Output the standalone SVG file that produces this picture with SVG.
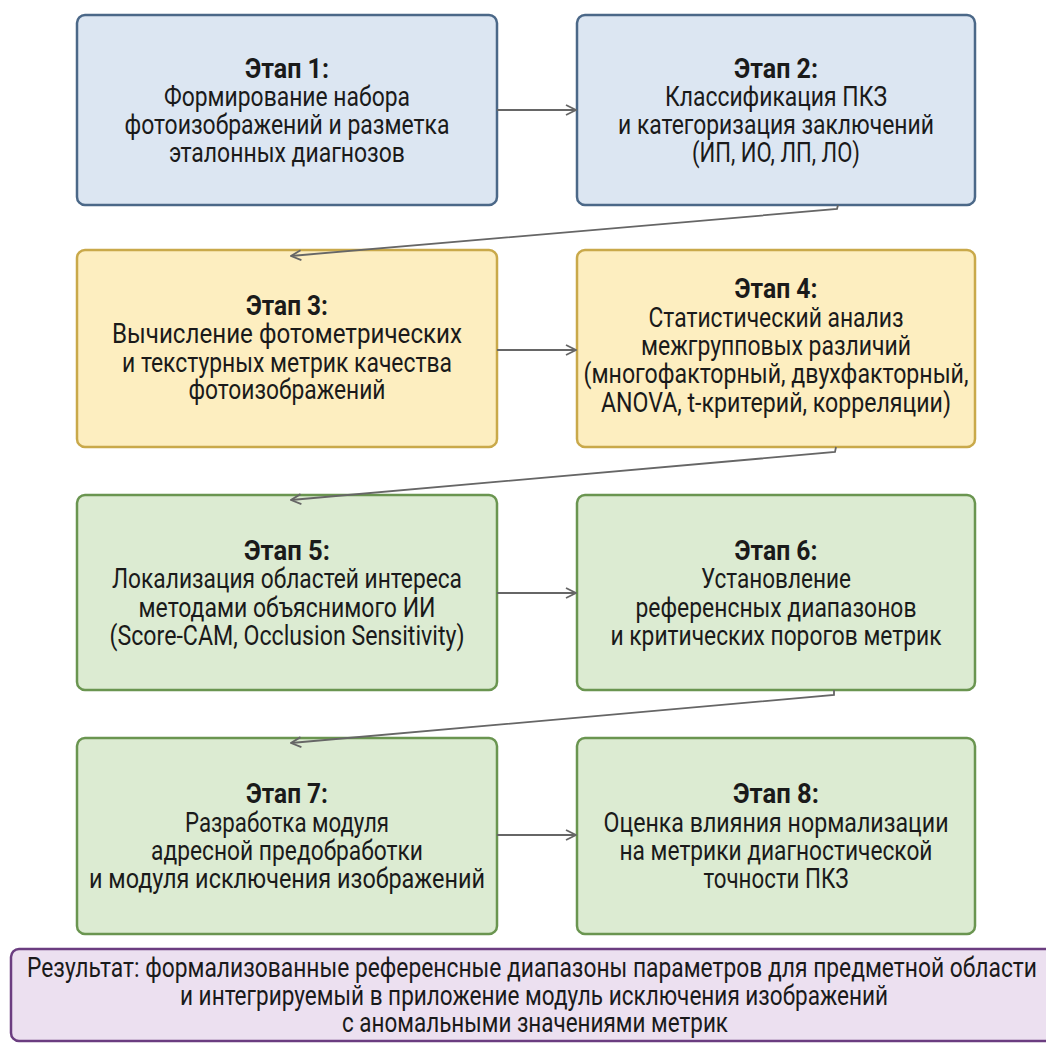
<svg xmlns="http://www.w3.org/2000/svg" width="1046" height="1043" viewBox="0 0 1046 1043">
<defs>
<style>
.box{stroke-width:2.5}
.blue{fill:#dce6f2;stroke:#4b6888}
.yellow{fill:#fdeec0;stroke:#c9a94a}
.green{fill:#dcebd2;stroke:#6a9550}
.purple{fill:#ece0f0;stroke:#6b3d80}
text{font-family:Roboto,"Liberation Sans",sans-serif;font-size:28px;fill:#1a1a1a;text-anchor:middle}
.t{font-weight:bold}
.conn{fill:none;stroke:#666;stroke-width:1.8}
</style>
<marker id="ah" viewBox="0 0 12 12" refX="11" refY="6" markerWidth="12" markerHeight="12" markerUnits="userSpaceOnUse" orient="auto">
<path d="M1 1 L11 6 L1 11" fill="none" stroke="#666" stroke-width="1.8"/>
</marker>
</defs>
<rect width="1046" height="1043" fill="#ffffff"/>

<g id="stage1">
<rect class="box blue" x="77" y="15" width="420" height="190" rx="8"/>
<text class="t" x="287" y="78" textLength="84" lengthAdjust="spacingAndGlyphs">Этап 1:</text>
<text x="287" y="106" textLength="246" lengthAdjust="spacingAndGlyphs">Формирование набора</text>
<text x="287" y="134" textLength="325" lengthAdjust="spacingAndGlyphs">фотоизображений и разметка</text>
<text x="287" y="162" textLength="236" lengthAdjust="spacingAndGlyphs">эталонных диагнозов</text>
</g>

<g id="stage2">
<rect class="box blue" x="577" y="15" width="398" height="190" rx="8"/>
<text class="t" x="776" y="78" textLength="84" lengthAdjust="spacingAndGlyphs">Этап 2:</text>
<text x="776" y="106" textLength="222" lengthAdjust="spacingAndGlyphs">Классификация ПКЗ</text>
<text x="776" y="134" textLength="316" lengthAdjust="spacingAndGlyphs">и категоризация заключений</text>
<text x="776" y="162" textLength="168" lengthAdjust="spacingAndGlyphs">(ИП, ИО, ЛП, ЛО)</text>
</g>

<g id="stage3">
<rect class="box yellow" x="77" y="250" width="420" height="197" rx="8"/>
<text class="t" x="287" y="315" textLength="82" lengthAdjust="spacingAndGlyphs">Этап 3:</text>
<text x="287" y="343" textLength="350" lengthAdjust="spacingAndGlyphs">Вычисление фотометрических</text>
<text x="287" y="372" textLength="330" lengthAdjust="spacingAndGlyphs">и текстурных метрик качества</text>
<text x="287" y="399" textLength="197" lengthAdjust="spacingAndGlyphs">фотоизображений</text>
</g>

<g id="stage4">
<rect class="box yellow" x="577" y="250" width="398" height="197" rx="8"/>
<text class="t" x="776" y="298" textLength="83" lengthAdjust="spacingAndGlyphs">Этап 4:</text>
<text x="776" y="327" textLength="255" lengthAdjust="spacingAndGlyphs">Статистический анализ</text>
<text x="776" y="355" textLength="270" lengthAdjust="spacingAndGlyphs">межгрупповых различий</text>
<text x="776" y="383" textLength="385" lengthAdjust="spacingAndGlyphs">(многофакторный, двухфакторный,</text>
<text x="776" y="412" textLength="350" lengthAdjust="spacingAndGlyphs">ANOVA, t-критерий, корреляции)</text>
</g>

<g id="stage5">
<rect class="box green" x="77" y="495" width="420" height="195" rx="8"/>
<text class="t" x="287" y="560" textLength="86" lengthAdjust="spacingAndGlyphs">Этап 5:</text>
<text x="287" y="588" textLength="350" lengthAdjust="spacingAndGlyphs">Локализация областей интереса</text>
<text x="287" y="617" textLength="297" lengthAdjust="spacingAndGlyphs">методами объяснимого ИИ</text>
<text x="287" y="645" textLength="355" lengthAdjust="spacingAndGlyphs">(Score-CAM, Occlusion Sensitivity)</text>
</g>

<g id="stage6">
<rect class="box green" x="577" y="495" width="398" height="195" rx="8"/>
<text class="t" x="776" y="560" textLength="83" lengthAdjust="spacingAndGlyphs">Этап 6:</text>
<text x="776" y="588" textLength="150" lengthAdjust="spacingAndGlyphs">Установление</text>
<text x="776" y="617" textLength="281" lengthAdjust="spacingAndGlyphs">референсных диапазонов</text>
<text x="776" y="645" textLength="331" lengthAdjust="spacingAndGlyphs">и критических порогов метрик</text>
</g>

<g id="stage7">
<rect class="box green" x="77" y="738" width="420" height="196" rx="8"/>
<text class="t" x="287" y="803" textLength="82" lengthAdjust="spacingAndGlyphs">Этап 7:</text>
<text x="287" y="832" textLength="204" lengthAdjust="spacingAndGlyphs">Разработка модуля</text>
<text x="287" y="860" textLength="272" lengthAdjust="spacingAndGlyphs">адресной предобработки</text>
<text x="287" y="888" textLength="396" lengthAdjust="spacingAndGlyphs">и модуля исключения изображений</text>
</g>

<g id="stage8">
<rect class="box green" x="577" y="738" width="398" height="196" rx="8"/>
<text class="t" x="776" y="803" textLength="86" lengthAdjust="spacingAndGlyphs">Этап 8:</text>
<text x="776" y="832" textLength="345" lengthAdjust="spacingAndGlyphs">Оценка влияния нормализации</text>
<text x="776" y="860" textLength="313" lengthAdjust="spacingAndGlyphs">на метрики диагностической</text>
<text x="776" y="888" textLength="145" lengthAdjust="spacingAndGlyphs">точности ПКЗ</text>
</g>

<g id="result">
<rect class="box purple" x="11" y="949" width="1050" height="92" rx="8"/>
<text x="532" y="977" textLength="1010" lengthAdjust="spacingAndGlyphs">Результат: формализованные референсные диапазоны параметров для предметной области</text>
<text x="534" y="1005" textLength="708" lengthAdjust="spacingAndGlyphs">и интегрируемый в приложение модуль исключения изображений</text>
<text x="535" y="1032" textLength="386" lengthAdjust="spacingAndGlyphs">с аномальными значениями метрик</text>
</g>

<g id="connectors">
<path class="conn" d="M497 110 L576 110" marker-end="url(#ah)"/>
<path class="conn" d="M838 205 L837 209 L291 256" marker-end="url(#ah)"/>
<path class="conn" d="M497 350 L576 350" marker-end="url(#ah)"/>
<path class="conn" d="M836 447 L835 452 L291 500" marker-end="url(#ah)"/>
<path class="conn" d="M497 593 L576 593" marker-end="url(#ah)"/>
<path class="conn" d="M834 690 L834 695 L291 743" marker-end="url(#ah)"/>
<path class="conn" d="M497 835 L576 835" marker-end="url(#ah)"/>
</g>
</svg>
